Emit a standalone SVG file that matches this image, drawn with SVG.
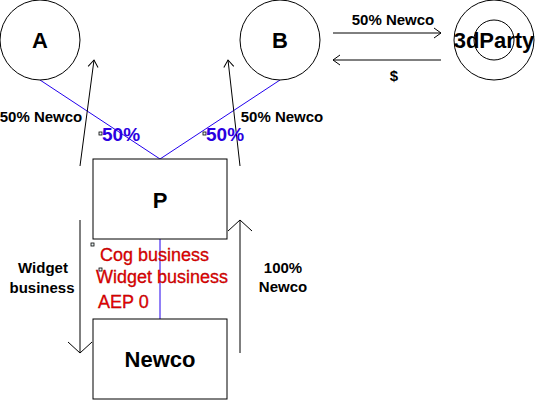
<svg xmlns="http://www.w3.org/2000/svg" width="536" height="402" viewBox="0 0 536 402">
<style>
.shape{fill:#fff;stroke:#000;stroke-width:1}
.big{font-family:"Liberation Sans",Arial,sans-serif;font-weight:bold;font-size:22px;fill:#000;text-anchor:middle}
.lbl{font-family:"Liberation Sans",Arial,sans-serif;font-weight:bold;font-size:15px;fill:#000}
.blue{font-family:"Liberation Sans",Arial,sans-serif;font-weight:bold;font-size:19px;fill:#2a00e0}
.red{font-family:"Liberation Sans",Arial,sans-serif;font-size:18px;fill:#e80000;stroke:#a00000;stroke-width:0.3}
.bl{stroke:#2200ee;stroke-width:1;fill:none}
.ar{stroke:#000;stroke-width:1;fill:none}
.sq{fill:#e8f4f4;stroke:#000;stroke-width:0.8}
</style>
<defs>
<marker id="hs" markerWidth="16" markerHeight="16" refX="0" refY="0" viewBox="-8 -8 16 16" orient="auto" markerUnits="userSpaceOnUse">
<path d="M-7,-5 L0,0 L-7,5" fill="none" stroke="#000" stroke-width="1"/>
</marker>
<marker id="hl" markerWidth="26" markerHeight="26" refX="0" refY="0" viewBox="-13 -13 26 26" orient="auto" markerUnits="userSpaceOnUse">
<path d="M-11,-12 L0,0 L-11,12" fill="none" stroke="#000" stroke-width="1"/>
</marker>
</defs>
<g id="connectors">
<polyline class="bl" points="40,80 160,159 280,80"/>
<line class="bl" x1="160" y1="239" x2="160" y2="319"/>
<line class="ar" x1="80" y1="166" x2="94" y2="60" marker-end="url(#hs)"/>
<line class="ar" x1="240" y1="166" x2="228" y2="60" marker-end="url(#hs)"/>
<line class="ar" x1="333" y1="33" x2="441" y2="33" marker-end="url(#hs)"/>
<line class="ar" x1="441" y1="60" x2="333" y2="60" marker-end="url(#hs)"/>
<line class="ar" x1="80" y1="220" x2="80" y2="353" marker-end="url(#hl)"/>
<line class="ar" x1="240" y1="353" x2="240" y2="220" marker-end="url(#hl)"/>
</g>
<g id="A">
<circle class="shape" cx="40" cy="40" r="40"/>
<text class="big" x="40" y="48">A</text>
</g>
<g id="B">
<circle class="shape" cx="280" cy="40" r="40"/>
<text class="big" x="280" y="48">B</text>
</g>
<g id="ThirdParty">
<circle class="shape" cx="494" cy="40" r="40"/>
<circle class="shape" cx="494" cy="40" r="20"/>
<text class="big" x="494" y="48">3dParty</text>
</g>
<g id="P">
<rect class="shape" x="93" y="159" width="134" height="80"/>
<text class="big" x="160" y="208">P</text>
</g>
<g id="Newco">
<rect class="shape" x="93" y="319" width="134" height="80"/>
<text class="big" x="160" y="367">Newco</text>
</g>
<g id="labels">
<text class="lbl" x="393" y="25" text-anchor="middle">50% Newco</text>
<text class="lbl" x="394" y="81" text-anchor="middle">$</text>
<text class="lbl" x="41" y="122" text-anchor="middle">50% Newco</text>
<text class="lbl" x="282" y="122" text-anchor="middle">50% Newco</text>
<text class="lbl" x="43" y="273" text-anchor="middle">Widget</text>
<text class="lbl" x="42" y="293" text-anchor="middle">business</text>
<text class="lbl" x="283" y="273" text-anchor="middle">100%</text>
<text class="lbl" x="283" y="292" text-anchor="middle">Newco</text>
<rect class="sq" x="99" y="132" width="3" height="3"/>
<text class="blue" x="102" y="141">50%</text>
<rect class="sq" x="203" y="132" width="3" height="3"/>
<text class="blue" x="206" y="141">50%</text>
<rect class="sq" x="91" y="243" width="3" height="3"/>
<rect class="sq" x="99" y="268" width="3" height="3"/>
<text class="red" x="100" y="261">Cog business</text>
<text class="red" x="96" y="283">Widget business</text>
<text class="red" x="98" y="308">AEP 0</text>
</g>
</svg>
